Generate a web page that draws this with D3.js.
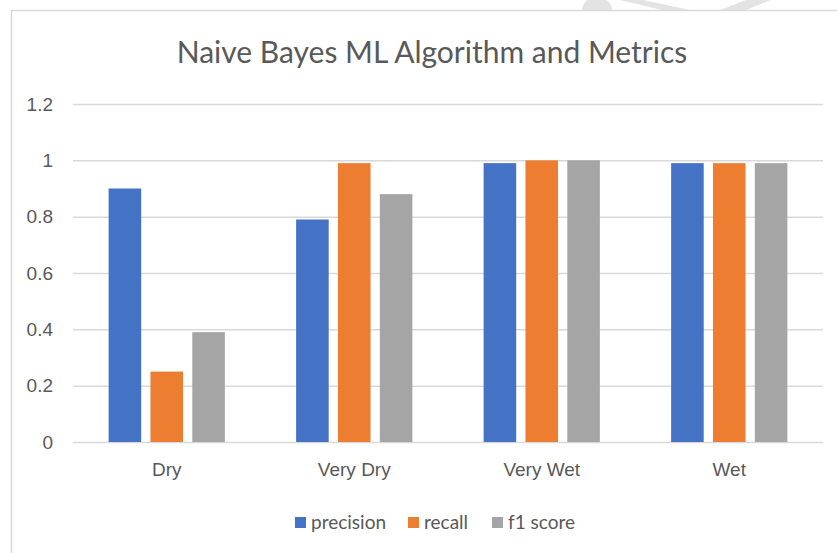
<!DOCTYPE html>
<html lang="en">
<head>
    <meta charset="UTF-8">
    <title>Naive Bayes ML Algorithm and Metrics</title>
    <script src="https://d3js.org/d3.v7.min.js"></script>
    <style>
        body {
            margin: 0;
            background: #fff;
            font-family: Lato, "Open Sans", sans-serif;
        }
        .tick-label, .cat-label, .legend-label {
            fill: #595959;
            font-size: 19px;
        }
        .title {
            fill: #595959;
            font-size: 30px;
        }
    </style>
</head>
<body>
    <div id="chart"></div>

    <script>
        // Chart data
        const categories = ["Dry", "Very Dry", "Very Wet", "Wet"];
        const seriesNames = ["precision", "recall", "f1 score"];
        const precision = [0.90, 0.79, 0.99, 0.99];
        const recall = [0.25, 0.99, 1.00, 0.99];
        const f1Score = [0.39, 0.88, 1.00, 0.99];
        const yTicks = [0, 0.2, 0.4, 0.6, 0.8, 1, 1.2];

        const colors = ["#4472C4", "#ED7D31", "#A5A5A5"];
        const seriesValues = [precision, recall, f1Score];

        const width = 837, height = 553;
        const plot = { left: 73, right: 823, top: 104, bottom: 442 };

        const svg = d3.select("#chart").append("svg")
            .attr("width", width)
            .attr("height", height);

        // faint watermark shapes above the chart frame
        const wm = svg.append("g").attr("fill", "#e3e3e3");
        wm.append("path").attr("d", "M582,10 A15,13 0 0 1 612,10 Z");
        wm.append("path").attr("d", "M620,0 L643,0 L690,10 L662,10 Z");
        wm.append("path").attr("d", "M746,0 L771,0 L746,10 L720,10 Z");

        // chart frame
        svg.append("rect")
            .attr("x", 11.5)
            .attr("y", 10.5)
            .attr("width", 840)
            .attr("height", 560)
            .attr("fill", "#fff")
            .attr("stroke", "#d9d9d9")
            .attr("stroke-width", 1.5);

        // title
        svg.append("text")
            .attr("class", "title")
            .attr("x", 432)
            .attr("y", 63)
            .attr("text-anchor", "middle")
            .text("Naive Bayes ML Algorithm and Metrics");

        // scales
        const x0 = d3.scaleBand()
            .domain(categories)
            .range([plot.left, plot.right])
            .paddingInner(0.38)
            .paddingOuter(0.19);

        const x1 = d3.scaleBand()
            .domain(seriesNames)
            .range([0, x0.bandwidth()])
            .paddingInner(0.2216)
            .paddingOuter(0);

        const y = d3.scaleLinear()
            .domain([0, 1.2])
            .range([plot.bottom, plot.top]);

        // gridlines + y tick labels
        const yAxis = svg.append("g")
            .attr("transform", `translate(${plot.left},0)`)
            .call(d3.axisLeft(y)
                .tickValues(yTicks)
                .tickSize(-(plot.right - plot.left))
                .tickPadding(20)
                .tickFormat(d => d3.format("~g")(d)));
        yAxis.select(".domain").remove();
        yAxis.selectAll(".tick line")
            .attr("stroke", "#d9d9d9")
            .attr("stroke-width", 1.5);
        yAxis.selectAll(".tick text")
            .attr("class", "tick-label")
            .attr("font-family", null)
            .attr("font-size", null)
            .attr("fill", null);

        // bars
        const groups = svg.append("g")
            .selectAll("g")
            .data(categories)
            .join("g")
            .attr("transform", d => `translate(${x0(d)},0)`);

        groups.selectAll("rect")
            .data((c, i) => seriesNames.map((s, j) => ({ s, j, v: seriesValues[j][i] })))
            .join("rect")
            .attr("x", d => x1(d.s))
            .attr("y", d => y(d.v))
            .attr("width", x1.bandwidth())
            .attr("height", d => y(0) - y(d.v))
            .attr("fill", d => colors[d.j]);

        // category labels
        const xAxis = svg.append("g")
            .attr("transform", `translate(0,${plot.bottom})`)
            .call(d3.axisBottom(x0).tickSize(0).tickPadding(21));
        xAxis.select(".domain").remove();
        xAxis.selectAll(".tick text")
            .attr("class", "cat-label")
            .attr("font-family", null)
            .attr("font-size", null)
            .attr("fill", null);

        // legend
        const legendX = [295, 408, 492];
        const legend = svg.append("g")
            .selectAll("g")
            .data(seriesNames)
            .join("g")
            .attr("transform", (d, i) => `translate(${legendX[i]},517)`);

        legend.append("rect")
            .attr("width", 11)
            .attr("height", 11)
            .attr("fill", (d, i) => colors[i]);

        legend.append("text")
            .attr("class", "legend-label")
            .attr("x", 16)
            .attr("y", 12)
            .text(d => d);
    </script>
</body>
</html>
